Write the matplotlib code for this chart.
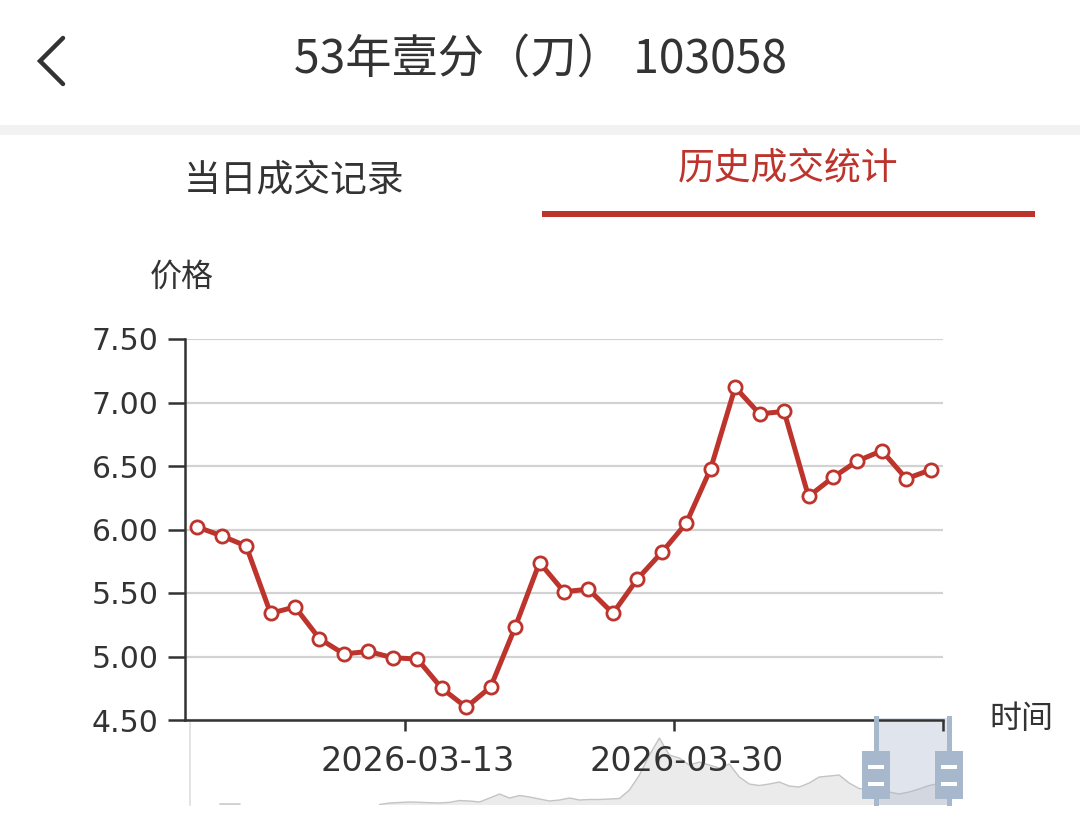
import numpy as np
import matplotlib
matplotlib.use("Agg")
import matplotlib.pyplot as plt
import matplotlib.transforms as mtransforms
from matplotlib.patches import Rectangle
from matplotlib.lines import Line2D

plt.rcParams["font.family"] = ["DejaVu Sans", "Noto Sans CJK SC"]

# Daten
dates = [
    "2026-03-02", "2026-03-03", "2026-03-04", "2026-03-05", "2026-03-06",
    "2026-03-09", "2026-03-10", "2026-03-11", "2026-03-12", "2026-03-13",
    "2026-03-16", "2026-03-17", "2026-03-18", "2026-03-19", "2026-03-20",
    "2026-03-23", "2026-03-24", "2026-03-25", "2026-03-26", "2026-03-27",
    "2026-03-30", "2026-03-31", "2026-04-01", "2026-04-02", "2026-04-03",
    "2026-04-06", "2026-04-07", "2026-04-08", "2026-04-09", "2026-04-10",
    "2026-04-13",
]
prices = [
    6.02, 5.95, 5.87, 5.34, 5.39, 5.14, 5.02, 5.04, 4.99, 4.98,
    4.75, 4.60, 4.76, 5.23, 5.74, 5.51, 5.53, 5.34, 5.61, 5.82,
    6.05, 6.48, 7.12, 6.91, 6.93, 6.26, 6.41, 6.54, 6.62, 6.40,
    6.47,
]
y_ticks = [4.5, 5.0, 5.5, 6.0, 6.5, 7.0, 7.5]

# Übersicht im Zoom-Schieber (ganze Historie)
nan = np.nan
overview = [
    nan, nan, nan, 1, 1, 1, nan, nan, nan, nan, nan, nan, nan, nan, nan,
    nan, nan, nan, nan,
    0.5, 2, 2.5, 3, 2.7, 2.3, 2, 2.7, 4.5, 4, 3, 7, 11, 7, 9.5, 8, 6, 4,
    5, 7, 5, 5.5, 5.5, 6, 6.5, 15, 30, 50, 67, 50, 47, 40, 43, 40, 37, 41,
    28, 21, 19.5, 21, 23, 19, 18, 22, 28, 29, 30, 22, 16.5, 15.5, 15, 13,
    11, 13, 16, 19.5, 21.5, 22,
]
zoom_start, zoom_end = 90.4, 100.0

title = "53年壹分（刀） 103058"
tab_left = "当日成交记录"
tab_right = "历史成交统计"

RED = "#bd342d"
DARK = "#333333"
CJK = ["Noto Sans CJK SC", "DejaVu Sans"]

W, H = 1080, 819
fig = plt.figure(figsize=(W / 100, H / 100), dpi=100)
fig.patch.set_facecolor("white")
# Pixelkoordinaten (y nach unten)
px = mtransforms.Affine2D().scale(1 / W, -1 / H).translate(0, 1) + fig.transFigure

# Kopfzeile
fig.add_artist(Line2D([63, 40, 63], [38, 61, 84], transform=px, color=DARK,
                      lw=3.2, solid_capstyle="round", solid_joinstyle="miter"))
fig.text(541 / W, 1 - 60 / H, title, family=CJK, fontsize=33.3, color=DARK,
         ha="center", va="center")
fig.add_artist(Rectangle((0, 125), W, 10, transform=px, color="#f2f2f2", lw=0))

# Reiter
fig.text(294 / W, 1 - 180 / H, tab_left, family=CJK, fontsize=26.5, color=DARK,
         ha="center", va="center")
fig.text(788 / W, 1 - 168 / H, tab_right, family=CJK, fontsize=26.5, color=RED,
         ha="center", va="center")
fig.add_artist(Rectangle((542, 211), 493, 6, transform=px, color=RED, lw=0))

# Zoom-Schieber
sl_left, sl_right, sl_top, sl_bot = 190, 949, 720, 805
ax_s = fig.add_axes([sl_left / W, 1 - sl_bot / H, (sl_right - sl_left) / W,
                     (sl_bot - sl_top) / H], zorder=1)
xs = np.linspace(0, 100, len(overview))
ov = np.array(overview, dtype=float)
ax_s.fill_between(xs, 0, ov, color="#ebebeb", lw=0)
ax_s.plot(xs, ov, color="#c4c4c4", lw=1)
ax_s.set_xlim(0, 100)
ax_s.set_ylim(0, np.nanmax(ov) * 1.27)
ax_s.axis("off")
fig.add_artist(Line2D([190, 190], [720, 805], transform=px, color="#dddddd", lw=1.2))

hx0 = sl_left + zoom_start / 100 * (sl_right - sl_left)
hx1 = sl_left + zoom_end / 100 * (sl_right - sl_left)
fig.add_artist(Rectangle((hx0, 718), hx1 - hx0, 87, transform=px,
                         color=(167 / 255, 183 / 255, 204 / 255, 0.35), lw=0, zorder=2))
for hx in (hx0, hx1):
    fig.add_artist(Rectangle((hx - 2.5, 716), 5, 90, transform=px, color="#a7b7cc",
                             lw=0, zorder=4))
    fig.add_artist(Rectangle((hx - 14, 751), 28, 48, transform=px, color="#a7b7cc",
                             lw=0, zorder=4))
    for my in (765, 782):
        fig.add_artist(Rectangle((hx - 8, my), 16, 4, transform=px, color="white",
                                 lw=0, zorder=5))

# Hauptdiagramm
ax = fig.add_axes([185 / W, 1 - 720 / H, (943 - 185) / W, (720 - 339) / H], zorder=3)
ax.patch.set_alpha(0)
x = np.arange(len(prices))
ax.plot(x, prices, color=RED, lw=3.6, marker="o", ms=9.5, mfc="white", mec=RED,
        mew=2.0, zorder=3, clip_on=False)
ax.set_xlim(-0.5, len(prices) - 0.5)
ax.set_ylim(y_ticks[0], y_ticks[-1])
ax.set_yticks(y_ticks)
ax.set_yticklabels([f"{v:.2f}" for v in y_ticks])
ax.grid(axis="y", color="#d2d2d2", lw=1.6)
ax.set_axisbelow(True)
for s in ("top", "right"):
    ax.spines[s].set_visible(False)
for s in ("left", "bottom"):
    ax.spines[s].set_color(DARK)
    ax.spines[s].set_linewidth(1.8)
ax.tick_params(axis="y", length=12, width=1.8, color=DARK, pad=7,
               labelsize=21.5, labelcolor=DARK)

label_idx = [i for i in range(len(dates)) if (i - 9) % 11 == 0]
ax.set_xticks([i - 0.5 for i in label_idx] + [len(prices) - 0.5])
ax.set_xticklabels([""] * (len(label_idx) + 1))
ax.tick_params(axis="x", which="major", length=8, width=1.8, color=DARK)
ax.set_xticks(label_idx, minor=True)
ax.set_xticklabels([dates[i] for i in label_idx], minor=True)
ax.tick_params(axis="x", which="minor", length=0, pad=18, labelsize=24,
               labelcolor=DARK)

fig.text(182 / W, 1 - 277 / H, "价格", family=CJK, fontsize=23, color=DARK,
         ha="center", va="center")
fig.text(1021 / W, 1 - 719 / H, "时间", family=CJK, fontsize=23, color=DARK,
         ha="center", va="center")

fig.savefig("out.png", dpi=100)
